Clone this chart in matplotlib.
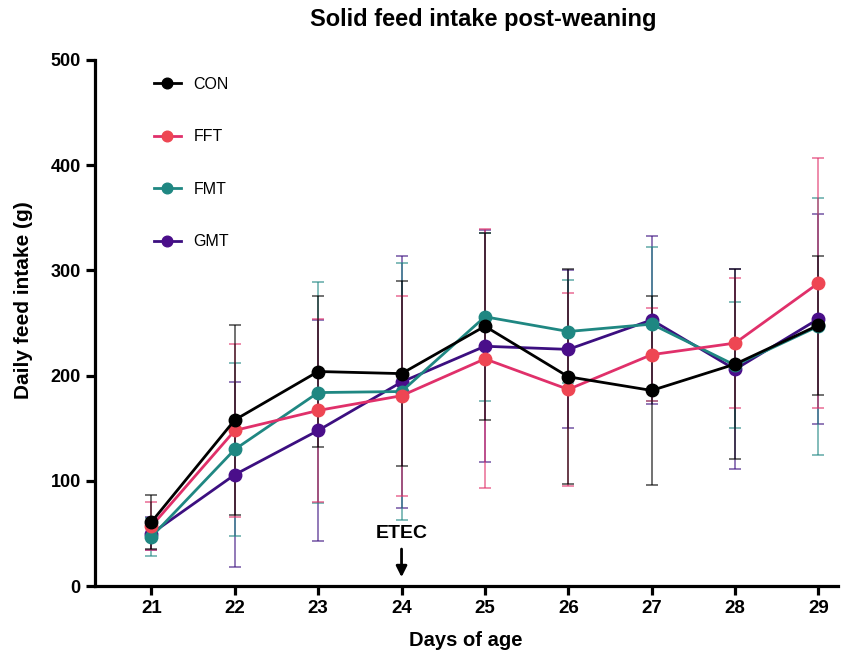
import numpy as np
import matplotlib
matplotlib.use('Agg')
import matplotlib.pyplot as plt

days = [21, 22, 23, 24, 25, 26, 27, 28, 29]
groups = ['CON', 'FFT', 'FMT', 'GMT']
colors = {'CON': '#000000', 'FFT': '#ee4653', 'FMT': '#1f8782', 'GMT': '#4a0e8a'}
line_colors = {'CON': '#000000', 'FFT': '#e0306a', 'FMT': '#1f8782', 'GMT': '#3c0f80'}

# means (g)
con_mean = [61, 158, 204, 202, 247, 199, 186, 211, 248]
fft_mean = [57, 148, 167, 181, 216, 187, 220, 231, 288]
fmt_mean = [47, 130, 184, 185, 256, 242, 249, 210, 247]
gmt_mean = [50, 106, 148, 194, 228, 225, 253, 206, 254]

# SD (g)
con_sd = [26, 90, 72, 88, 89, 102, 90, 90, 66]
fft_sd = [23, 82, 87, 95, 123, 92, 44, 62, 119]
fmt_sd = [18, 82, 105, 122, 80, 49, 73, 60, 122]
gmt_sd = [16, 88, 105, 120, 110, 75, 80, 95, 100]

means = {'CON': con_mean, 'FFT': fft_mean, 'FMT': fmt_mean, 'GMT': gmt_mean}
sds = {'CON': con_sd, 'FFT': fft_sd, 'FMT': fmt_sd, 'GMT': gmt_sd}

plt.rcParams['font.family'] = ['Liberation Sans', 'DejaVu Sans']

fig = plt.figure(figsize=(8.53, 6.58), dpi=100)
ax = fig.add_axes([0.111, 0.109, 0.871, 0.8])

handles = {}
for g in ['GMT', 'FMT', 'FFT', 'CON']:
    ax.errorbar(days, means[g], yerr=sds[g], fmt='none', ecolor=line_colors[g],
                elinewidth=1.2, capsize=4.5, capthick=1.2, alpha=0.65, zorder=2)
    h, = ax.plot(days, means[g], color=line_colors[g], linewidth=2,
                 marker='o', markersize=9, markerfacecolor=colors[g],
                 markeredgecolor=colors[g], zorder=3, label=g)
    handles[g] = h

ax.set_xlim(20.32, 29.23)
ax.set_ylim(0, 500)
ax.set_xticks(days)
ax.set_yticks([0, 100, 200, 300, 400, 500])

for s in ['top', 'right']:
    ax.spines[s].set_visible(False)
for s in ['left', 'bottom']:
    ax.spines[s].set_linewidth(2.3)
ax.tick_params(width=2.3, length=6.5)
ax.tick_params(axis='x', labelsize=13.5)
ax.tick_params(axis='y', labelsize=13)
for lab in ax.get_xticklabels() + ax.get_yticklabels():
    lab.set_fontweight('bold')

ax.set_xlabel('Days of age', fontsize=14.5, fontweight='bold', labelpad=10)
ax.set_ylabel('Daily feed intake (g)', fontsize=15, fontweight='bold')
ax.yaxis.set_label_coords(-0.083, 0.544)
fig.text(0.567, 0.97, 'Solid feed intake post-weaning', ha='center', va='center',
         fontsize=17, fontweight='bold')

# ETEC challenge marker
ax.annotate('', xy=(24, 6), xytext=(24, 38),
            arrowprops=dict(arrowstyle='-|>', color='black', lw=2, mutation_scale=16))
ax.text(24, 50, 'ETEC', ha='center', va='center', fontsize=14, fontweight='bold')

ax.legend([handles[g] for g in groups], groups, loc='upper left',
          bbox_to_anchor=(0.06, 0.995), frameon=False, fontsize=11.5,
          labelspacing=2.35, handlelength=1.7, handletextpad=0.8, markerscale=0.85)

fig.savefig('out.png', dpi=100)
